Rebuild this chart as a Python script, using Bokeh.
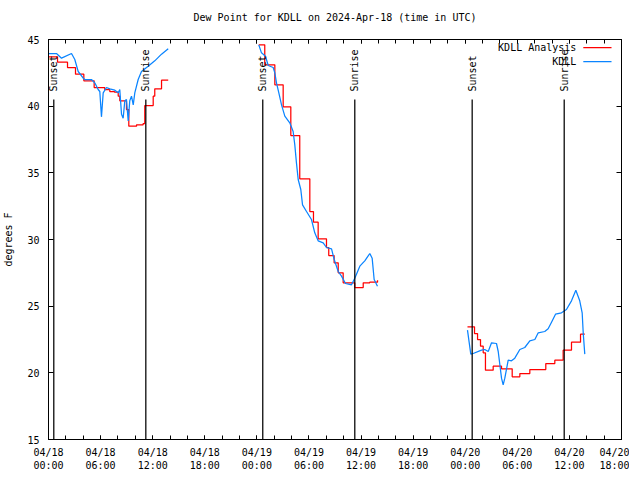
import math
from bokeh.plotting import figure
from bokeh.models import FixedTicker, LinearAxis, Range1d, Title
from bokeh.core.properties import value
from bokeh.embed import file_html
from bokeh.resources import INLINE

# ---- data (hours since 2024-04-18 00:00 UTC) ----
tick_hours = [0, 6, 12, 18, 24, 30, 36, 42, 48, 54, 60, 66]
tick_labels = ["04/18\n00:00", "04/18\n06:00", "04/18\n12:00", "04/18\n18:00",
               "04/19\n00:00", "04/19\n06:00", "04/19\n12:00", "04/19\n18:00",
               "04/20\n00:00", "04/20\n06:00", "04/20\n12:00", "04/20\n18:00"]
minor_hours = list(range(0, 67, 2))
y_ticks = [15, 20, 25, 30, 35, 40, 45]

# KDLL Analysis (red, step), three segments
ana1_t = [0.0, 1.04, 2.19, 3.11, 4.07, 5.26, 6.48, 7.06, 7.6, 8.03, 8.21, 8.98, 9.25,
          10.14, 10.9, 11.09, 12.06, 12.24, 13.02, 13.79]
ana1_v = [43.7, 43.3, 42.9, 42.4, 41.9, 41.4, 41.25, 41.1, 41.05, 40.75, 40.4, 39.75, 38.5,
          38.6, 38.7, 40.05, 40.75, 41.3, 41.95, 41.95]
ana2_t = [24.22, 24.91, 26.07, 27.03, 27.91, 28.94, 30.1, 30.52, 31.06, 32.02, 32.28,
          32.9, 33.37, 33.94, 35.28, 36.25, 37.0, 37.9]
ana2_v = [44.6, 43.1, 41.6, 39.95, 37.8, 34.55, 32.1, 31.3, 30.05, 29.4, 28.8,
          28.25, 27.5, 26.75, 26.4, 26.75, 26.8, 26.95]
ana3_t = [48.26, 49.07, 49.42, 49.76, 50.07, 50.33, 51.22, 52.18, 53.41, 54.29, 55.44,
          57.28, 58.32, 59.28, 60.24, 61.28, 61.77]
ana3_v = [23.45, 22.95, 22.5, 22.0, 21.5, 20.2, 20.5, 20.3, 19.7, 19.95, 20.25,
          20.7, 20.95, 21.7, 22.3, 22.9, 22.9]

# KDLL observations (blue), three segments
obs1_t = [0.03, 0.92, 1.5, 2.65, 3.03, 3.42, 4.0, 4.18, 4.95, 5.33, 5.72, 5.91, 6.1, 6.3,
          6.68, 7.06, 7.64, 8.03, 8.21, 8.41, 8.6, 8.79, 8.98, 9.18, 9.36, 9.56, 9.76, 9.94,
          10.33, 10.71, 11.48, 12.24, 13.02, 13.79]
obs1_v = [43.95, 43.95, 43.6, 43.95, 43.5, 42.6, 42.1, 42.0, 42.0, 41.75, 41.25, 41.1, 39.2, 41.0,
          41.4, 41.3, 41.2, 41.0, 41.25, 39.4, 39.1, 40.4, 40.5, 38.9, 40.4, 40.75, 40.1, 41.0,
          42.0, 42.6, 43.0, 43.4, 43.9, 44.3]
obs2_t = [24.22, 24.53, 24.73, 24.99, 25.31, 25.88, 26.07, 26.26, 26.53, 26.84, 27.22, 27.79,
          28.18, 28.37, 28.56, 28.76, 29.06, 29.26, 29.72, 30.29, 30.67, 31.06, 31.64, 32.02,
          32.6, 32.91, 33.37, 33.75, 34.21, 34.9, 35.28, 35.86, 36.43, 37.01, 37.28, 37.51, 37.89]
obs2_v = [44.6, 44.0, 43.9, 43.75, 43.05, 42.9, 42.5, 41.75, 41.0, 40.1, 39.25, 38.75,
          38.1, 37.1, 35.75, 34.5, 33.75, 32.6, 32.1, 31.5, 30.5, 29.9, 29.75, 29.4,
          29.3, 28.5, 27.6, 27.25, 26.7, 26.6, 27.1, 28.0, 28.4, 28.95, 28.6, 27.0, 26.5]
obs3_t = [48.26, 48.64, 48.92, 49.87, 50.25, 50.65, 51.03, 51.6, 51.8, 52.18, 52.37, 52.56,
          52.95, 53.33, 53.71, 54.29, 54.86, 55.44, 56.02, 56.41, 57.16, 57.55, 57.94, 58.4,
          59.09, 59.66, 60.24, 60.74, 61.19, 61.47, 61.59, 61.77]
obs3_v = [23.2, 21.4, 21.45, 21.7, 21.75, 21.6, 22.25, 22.2, 21.6, 19.6, 19.1, 19.6,
          20.95, 20.9, 21.1, 21.75, 21.9, 22.4, 22.5, 23.0, 23.1, 23.3, 23.8, 24.4,
          24.5, 24.75, 25.4, 26.2, 25.4, 24.5, 23.0, 21.4]

event_hours = [0.61, 11.21, 24.68, 35.28, 48.8, 59.4]
event_names = ["Sunset", "Sunrise", "Sunset", "Sunrise", "Sunset", "Sunrise"]
event_line_top = 40.5
event_label_y = 41.1

TITLE = "Dew Point for KDLL on 2024-Apr-18 (time in UTC)"
RED = "#ff0000"
BLUE = "#0a84ff"
FONT = "DejaVu Sans Mono"
FS = "10px"
LW = 1.25

p = figure(frame_width=573, frame_height=400, output_backend="svg", toolbar_location=None,
           x_range=Range1d(0, 66), y_range=Range1d(15, 45),
           min_border_left=42, min_border_right=8, min_border_top=39, min_border_bottom=22,
           background_fill_color="white", border_fill_color="white")
p.title = Title(text=TITLE, align="center", text_font=FONT, text_font_size=FS,
                text_font_style="normal", text_color="black")
p.grid.visible = False
p.outline_line_color = "black"
p.outline_line_width = 1

xt = FixedTicker(ticks=tick_hours, minor_ticks=minor_hours)
yt = FixedTicker(ticks=y_ticks, minor_ticks=[])

def style(ax):
    ax.axis_line_color = "black"
    ax.major_tick_line_color = "black"
    ax.minor_tick_line_color = "black"
    ax.major_tick_out = 0
    ax.minor_tick_out = 0
    ax.major_label_text_font = FONT
    ax.major_label_text_font_size = FS
    ax.major_label_text_color = "black"

p.xaxis.ticker = xt
p.xaxis.major_label_overrides = {h: l for h, l in zip(tick_hours, tick_labels)}
style(p.xaxis[0])
p.xaxis.major_tick_in = 4
p.xaxis.minor_tick_in = 4
p.xaxis.major_label_standoff = 7

p.yaxis.ticker = yt
p.yaxis.axis_label = "degrees F"
p.yaxis.axis_label_text_font = FONT
p.yaxis.axis_label_text_font_size = FS
p.yaxis.axis_label_text_font_style = "normal"
p.yaxis.axis_label_text_color = "black"
p.yaxis.axis_label_standoff = 10
style(p.yaxis[0])
p.yaxis.major_tick_in = 5
p.yaxis.major_label_standoff = 9

# mirrored ticks on top; its (blank) axis label just adds room under the title
top = LinearAxis(ticker=FixedTicker(ticks=tick_hours, minor_ticks=minor_hours),
                 major_label_overrides={h: "" for h in tick_hours})
style(top)
top.major_tick_in = 4
top.minor_tick_in = 4
top.major_label_standoff = 0
top.axis_label = " "
top.axis_label_text_font_size = "8px"
top.axis_label_standoff = 0
p.add_layout(top, "above")

right = LinearAxis(ticker=FixedTicker(ticks=y_ticks, minor_ticks=[]),
                   major_label_overrides={v: "" for v in y_ticks})
style(right)
right.major_tick_in = 5
right.major_label_standoff = 0
p.add_layout(right, "right")

# series
for t, v in [(ana1_t, ana1_v), (ana2_t, ana2_v), (ana3_t, ana3_v)]:
    p.step(t, v, mode="after", line_color=RED, line_width=LW)
for t, v in [(obs1_t, obs1_v), (obs2_t, obs2_v), (obs3_t, obs3_v)]:
    p.line(t, v, line_color=BLUE, line_width=LW)

# sunrise / sunset markers
p.segment(x0=event_hours, y0=[15] * len(event_hours), x1=event_hours,
          y1=[event_line_top] * len(event_hours), line_color="black", line_width=LW)
p.text(x=event_hours, y=[event_label_y] * len(event_hours), text=event_names,
       angle=math.pi / 2, text_align="left", text_baseline="middle",
       text_font=value(FONT), text_font_size=FS, text_color="black")

# legend (gnuplot-style: text then sample line)
leg_labels = ["KDLL Analysis", "KDLL"]
leg_colors = [RED, BLUE]
leg_x_text = 60.8
leg_x0, leg_x1 = 61.6, 64.85
leg_y = [44.4, 43.35]
p.text(x=[leg_x_text] * 2, y=leg_y, text=leg_labels, text_align="right",
       text_baseline="middle", text_font=value(FONT), text_font_size=FS, text_color="black")
for yy, cc in zip(leg_y, leg_colors):
    p.line([leg_x0, leg_x1], [yy, yy], line_color=cc, line_width=LW)

open("out.html", "w").write(file_html(p, INLINE))
